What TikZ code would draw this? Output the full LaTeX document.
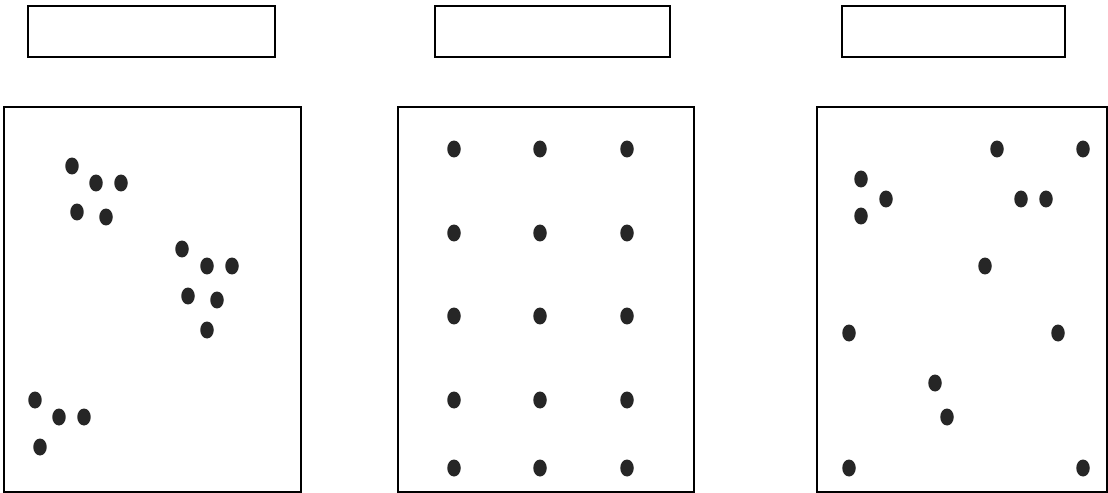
\documentclass[tikz,border=0pt]{standalone}
\usepackage{tikz}
\usetikzlibrary{positioning}

\begin{document}
\begin{tikzpicture}[x=0.02cm, y=-0.02cm,
  lblbox/.style={draw, line width=1.2pt, minimum height=1.02cm, inner sep=0pt},
  panel/.style={draw, line width=0.9pt, minimum height=7.7cm, inner sep=0pt},
  dot/.style={fill=black!85}]
\useasboundingbox (0,0) rectangle (1108,493);
% Label boxes
\node[lblbox, minimum width=4.94cm] (labelA) at (151.5,31.5) {};
\node[lblbox, minimum width=4.7cm] (labelB) at (552.5,31.5) {};
\node[lblbox, minimum width=4.46cm] (labelC) at (953.5,31.5) {};
% Panels
\node[panel, minimum width=5.94cm] (panelA) at (152.5,299.5) {};
\node[panel, minimum width=5.92cm] (panelB) at (546,299.5) {};
\node[panel, minimum width=5.8cm] (panelC) at (962,299.5) {};
% Clustered
\foreach \x/\y in {72/166, 96/183, 121/183, 77/212, 106/217,
  182/249, 207/266, 232/266, 188/296, 217/300, 207/330,
  35/400, 59/417, 84/417, 40/447}
  \fill[dot] (\x,\y) ellipse [x radius=0.135cm, y radius=0.17cm];
% Uniform
\foreach \x in {454,540,627}
  \foreach \y in {149,233,316,400,468}
    \fill[dot] (\x,\y) ellipse [x radius=0.135cm, y radius=0.17cm];
% Random
\foreach \x/\y in {997/149, 1083/149, 861/179, 886/199, 861/216,
  1021/199, 1046/199, 985/266, 849/333, 1058/333,
  935/383, 947/417, 849/468, 1083/468}
  \fill[dot] (\x,\y) ellipse [x radius=0.135cm, y radius=0.17cm];
\end{tikzpicture}
\end{document}
